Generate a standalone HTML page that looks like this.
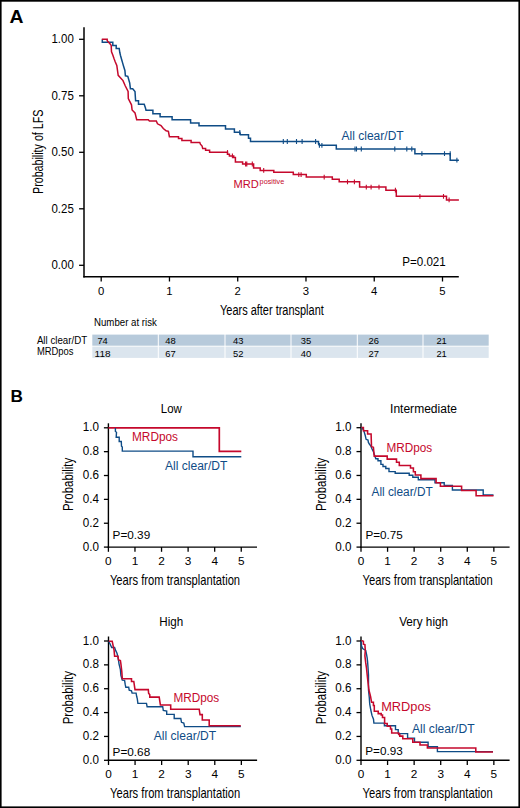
<!DOCTYPE html>
<html><head><meta charset="utf-8"><style>
html,body{margin:0;padding:0;background:#fff;}
body{width:520px;height:808px;overflow:hidden;}
svg{display:block;}
text{font-family:"Liberation Sans", sans-serif;}
</style></head><body>
<svg width="520" height="808" viewBox="0 0 520 808" font-family='"Liberation Sans", sans-serif'>
<rect x="0" y="0" width="520" height="808" fill="#fff"/>
<text transform="translate(9.6,22.8) scale(1.1,1)" font-size="17.6" font-weight="bold">A</text>
<line x1="84.0" y1="27.3" x2="84.0" y2="277.5" stroke="#000" stroke-width="1.5"/>
<line x1="83.3" y1="276.8" x2="458.8" y2="276.8" stroke="#000" stroke-width="1.5"/>
<line x1="79.1" y1="265.3" x2="84.0" y2="265.3" stroke="#000" stroke-width="1.3"/>
<text x="73.8" y="269.1" font-size="12" fill="#000" text-anchor="end" textLength="22.3" lengthAdjust="spacingAndGlyphs">0.00</text>
<line x1="79.1" y1="208.8" x2="84.0" y2="208.8" stroke="#000" stroke-width="1.3"/>
<text x="73.8" y="212.60000000000002" font-size="12" fill="#000" text-anchor="end" textLength="22.3" lengthAdjust="spacingAndGlyphs">0.25</text>
<line x1="79.1" y1="152.3" x2="84.0" y2="152.3" stroke="#000" stroke-width="1.3"/>
<text x="73.8" y="156.10000000000002" font-size="12" fill="#000" text-anchor="end" textLength="22.3" lengthAdjust="spacingAndGlyphs">0.50</text>
<line x1="79.1" y1="95.80000000000001" x2="84.0" y2="95.80000000000001" stroke="#000" stroke-width="1.3"/>
<text x="73.8" y="99.60000000000001" font-size="12" fill="#000" text-anchor="end" textLength="22.3" lengthAdjust="spacingAndGlyphs">0.75</text>
<line x1="79.1" y1="39.30000000000001" x2="84.0" y2="39.30000000000001" stroke="#000" stroke-width="1.3"/>
<text x="73.8" y="43.10000000000001" font-size="12" fill="#000" text-anchor="end" textLength="22.3" lengthAdjust="spacingAndGlyphs">1.00</text>
<line x1="101.2" y1="276.8" x2="101.2" y2="281.5" stroke="#000" stroke-width="1.3"/>
<text x="101.2" y="295.4" font-size="11.3" fill="#000" text-anchor="middle">0</text>
<line x1="169.46" y1="276.8" x2="169.46" y2="281.5" stroke="#000" stroke-width="1.3"/>
<text x="169.46" y="295.4" font-size="11.3" fill="#000" text-anchor="middle">1</text>
<line x1="237.72000000000003" y1="276.8" x2="237.72000000000003" y2="281.5" stroke="#000" stroke-width="1.3"/>
<text x="237.72000000000003" y="295.4" font-size="11.3" fill="#000" text-anchor="middle">2</text>
<line x1="305.98" y1="276.8" x2="305.98" y2="281.5" stroke="#000" stroke-width="1.3"/>
<text x="305.98" y="295.4" font-size="11.3" fill="#000" text-anchor="middle">3</text>
<line x1="374.24" y1="276.8" x2="374.24" y2="281.5" stroke="#000" stroke-width="1.3"/>
<text x="374.24" y="295.4" font-size="11.3" fill="#000" text-anchor="middle">4</text>
<line x1="442.5" y1="276.8" x2="442.5" y2="281.5" stroke="#000" stroke-width="1.3"/>
<text x="442.5" y="295.4" font-size="11.3" fill="#000" text-anchor="middle">5</text>
<text x="220" y="314.8" font-size="15.2" fill="#000" textLength="103.8" lengthAdjust="spacingAndGlyphs">Years after transplant</text>
<text transform="translate(42.6,194) rotate(-90)" font-size="15.4" textLength="84.4" lengthAdjust="spacingAndGlyphs">Probability of LFS</text>
<text x="402.2" y="266.3" font-size="12.4" fill="#000" textLength="43.6" lengthAdjust="spacingAndGlyphs">P=0.021</text>
<text x="341.5" y="140" font-size="12" fill="#0f4c86" textLength="62.2" lengthAdjust="spacingAndGlyphs">All clear/DT</text>
<text x="233.5" y="187.7" font-size="11" fill="#c5082c" textLength="25.3" lengthAdjust="spacingAndGlyphs">MRD</text>
<text x="259.6" y="184.4" font-size="7.2" fill="#c5082c" textLength="24.6" lengthAdjust="spacingAndGlyphs">positive</text>
<path d="M102.3,39.5 V42.3 H112.8 V45.4 H116.2 V48.5 H119.2 L119.8,52.5 L120.5,55.5 L121.7,59.8 L122.6,62.9 L123.5,66 L124.9,70.5 L125.4,75.8 L127.8,76.3 L129.7,83 L130.4,88.7 H132.7 L135,91.5 L135.6,100.8 H138.5 V104.2 H144.2 L145.4,107.7 L146,110.2 H152.9 V113.7 H160.1 V116.7 H172.1 V119.7 H190.6 V122.9 H199 V125.8 H225.5 V128.9 H234.4 V132.3 H239.8 L240.4,134.8 H248.5 V138.3 H250.5 V141.5 H318.5 V144 L319.4,145.3 H336.3 V149 H414.9 V153.7 H450.2 V160.2 H458.9" fill="none" stroke="#0f4c86" stroke-width="1.5" stroke-linejoin="miter"/>
<path d="M101.8,39.2 H107.2 V40.8 L108.8,42.6 L110,43.8 L111.2,45.4 L111.5,51.8 L112.8,54.9 L114,58.6 L115.2,61.7 L116.8,65.4 L118.2,75.3 L123,80.6 L125.2,85.8 L128.1,91.5 L128.3,98.5 L131.5,104.8 L132.1,110 L135,112.9 L136.7,119.8 H148.3 L149.4,121 H156.3 L157.5,123.8 L161,125.6 L163.3,128.5 L166.1,130.8 L168.4,131.3 L169.4,136.7 H178.5 V138.4 H181.9 V140.5 H191.1 V142.5 H199.8 L200.4,144.2 L202.1,146 L202.7,148.6 H205.6 V150.3 H209.6 V152.3 H227.5 V154.2 H229.4 V155.9 H233.7 V157.6 H235.4 V162 H242.6 V164 H253.6 V168.1 H260.2 V170.4 H273.8 V172.3 H293.3 V174.6 H306.3 V177.1 H332.3 V179.2 H339.2 V181.8 H359.6 V187.1 H385.9 V190.2 H396.3 V196.3 H446.5 V199.9 H458.9" fill="none" stroke="#c5082c" stroke-width="1.5" stroke-linejoin="miter"/>
<path d="M239.8,129.9V134.70000000000002" stroke="#0f4c86" stroke-width="1.1" fill="none"/>
<path d="M283.3,139.1V143.9 M287.3,139.1V143.9 M296.5,139.1V143.9 M302.1,139.1V143.9 M315.6,139.1V143.9" stroke="#0f4c86" stroke-width="1.1" fill="none"/>
<path d="M319.4,142.9V147.70000000000002 M321.9,142.9V147.70000000000002" stroke="#0f4c86" stroke-width="1.1" fill="none"/>
<path d="M355,146.6V151.4 M356.5,146.6V151.4 M361.3,146.6V151.4 M394.8,146.6V151.4 M406.8,146.6V151.4 M411.8,146.6V151.4" stroke="#0f4c86" stroke-width="1.1" fill="none"/>
<path d="M421.9,151.29999999999998V156.1 M444.5,151.29999999999998V156.1 M450.2,151.29999999999998V156.1" stroke="#0f4c86" stroke-width="1.1" fill="none"/>
<path d="M456.9,157.79999999999998V162.6" stroke="#0f4c86" stroke-width="1.1" fill="none"/>
<path d="M227.5,150.1V154.9" stroke="#c5082c" stroke-width="1.1" fill="none"/>
<path d="M232.4,153.5V158.3" stroke="#c5082c" stroke-width="1.1" fill="none"/>
<path d="M245.6,161.6V166.4 M246.8,161.6V166.4 M252.3,161.6V166.4" stroke="#c5082c" stroke-width="1.1" fill="none"/>
<path d="M263.7,168.0V172.8" stroke="#c5082c" stroke-width="1.1" fill="none"/>
<path d="M298.8,172.2V177.0 M301.1,172.2V177.0" stroke="#c5082c" stroke-width="1.1" fill="none"/>
<path d="M324.2,174.7V179.5" stroke="#c5082c" stroke-width="1.1" fill="none"/>
<path d="M347.5,179.4V184.20000000000002 M354.4,179.4V184.20000000000002" stroke="#c5082c" stroke-width="1.1" fill="none"/>
<path d="M366.3,184.7V189.5 M371.1,184.7V189.5 M379,184.7V189.5" stroke="#c5082c" stroke-width="1.1" fill="none"/>
<path d="M395.4,187.79999999999998V192.6" stroke="#c5082c" stroke-width="1.1" fill="none"/>
<path d="M419.9,193.9V198.70000000000002 M443.5,193.9V198.70000000000002" stroke="#c5082c" stroke-width="1.1" fill="none"/>
<path d="M449.1,197.5V202.3" stroke="#c5082c" stroke-width="1.1" fill="none"/>
<text x="94" y="325.6" font-size="10" fill="#000" textLength="62.8" lengthAdjust="spacingAndGlyphs">Number at risk</text>
<text x="36.9" y="343.5" font-size="10" fill="#000" textLength="50.2" lengthAdjust="spacingAndGlyphs">All clear/DT</text>
<text x="36.9" y="355.4" font-size="10" fill="#000" textLength="36.6" lengthAdjust="spacingAndGlyphs">MRDpos</text>
<rect x="92.3" y="334.6" width="65.50000000000001" height="11.1" fill="#b7cadb"/>
<rect x="92.3" y="346.6" width="65.50000000000001" height="11.3" fill="#dbe5ee"/>
<rect x="158.8" y="334.6" width="65.69999999999999" height="11.1" fill="#b7cadb"/>
<rect x="158.8" y="346.6" width="65.69999999999999" height="11.3" fill="#dbe5ee"/>
<rect x="225.5" y="334.6" width="65.0" height="11.1" fill="#b7cadb"/>
<rect x="225.5" y="346.6" width="65.0" height="11.3" fill="#dbe5ee"/>
<rect x="291.5" y="334.6" width="65.30000000000001" height="11.1" fill="#b7cadb"/>
<rect x="291.5" y="346.6" width="65.30000000000001" height="11.3" fill="#dbe5ee"/>
<rect x="357.8" y="334.6" width="64.69999999999999" height="11.1" fill="#b7cadb"/>
<rect x="357.8" y="346.6" width="64.69999999999999" height="11.3" fill="#dbe5ee"/>
<rect x="423.5" y="334.6" width="65.19999999999999" height="11.1" fill="#b7cadb"/>
<rect x="423.5" y="346.6" width="65.19999999999999" height="11.3" fill="#dbe5ee"/>
<text x="102.6" y="343.7" font-size="9.4" fill="#000" text-anchor="middle" textLength="10.4" lengthAdjust="spacingAndGlyphs">74</text>
<text x="102.6" y="356.7" font-size="9.4" fill="#000" text-anchor="middle" textLength="16" lengthAdjust="spacingAndGlyphs">118</text>
<text x="170.39999999999998" y="343.7" font-size="9.4" fill="#000" text-anchor="middle">48</text>
<text x="170.39999999999998" y="356.7" font-size="9.4" fill="#000" text-anchor="middle">67</text>
<text x="238.2" y="343.7" font-size="9.4" fill="#000" text-anchor="middle">43</text>
<text x="238.2" y="356.7" font-size="9.4" fill="#000" text-anchor="middle">52</text>
<text x="306.0" y="343.7" font-size="9.4" fill="#000" text-anchor="middle">35</text>
<text x="306.0" y="356.7" font-size="9.4" fill="#000" text-anchor="middle">40</text>
<text x="373.79999999999995" y="343.7" font-size="9.4" fill="#000" text-anchor="middle">26</text>
<text x="373.79999999999995" y="356.7" font-size="9.4" fill="#000" text-anchor="middle">27</text>
<text x="441.6" y="343.7" font-size="9.4" fill="#000" text-anchor="middle">21</text>
<text x="441.6" y="356.7" font-size="9.4" fill="#000" text-anchor="middle">21</text>
<text x="10.4" y="402.3" font-size="17.2" fill="#000" font-weight="bold">B</text>
<line x1="108.4" y1="423.3" x2="108.4" y2="547.8000000000001" stroke="#000" stroke-width="1.4"/>
<line x1="107.7" y1="547.1" x2="257.0" y2="547.1" stroke="#000" stroke-width="1.4"/>
<line x1="103.9" y1="547.1" x2="108.4" y2="547.1" stroke="#000" stroke-width="1.3"/>
<text x="98.9" y="550.7" font-size="12" fill="#000" text-anchor="end" textLength="16.2" lengthAdjust="spacingAndGlyphs">0.0</text>
<line x1="103.9" y1="523.24" x2="108.4" y2="523.24" stroke="#000" stroke-width="1.3"/>
<text x="98.9" y="526.84" font-size="12" fill="#000" text-anchor="end" textLength="16.2" lengthAdjust="spacingAndGlyphs">0.2</text>
<line x1="103.9" y1="499.38" x2="108.4" y2="499.38" stroke="#000" stroke-width="1.3"/>
<text x="98.9" y="502.98" font-size="12" fill="#000" text-anchor="end" textLength="16.2" lengthAdjust="spacingAndGlyphs">0.4</text>
<line x1="103.9" y1="475.52" x2="108.4" y2="475.52" stroke="#000" stroke-width="1.3"/>
<text x="98.9" y="479.12" font-size="12" fill="#000" text-anchor="end" textLength="16.2" lengthAdjust="spacingAndGlyphs">0.6</text>
<line x1="103.9" y1="451.66" x2="108.4" y2="451.66" stroke="#000" stroke-width="1.3"/>
<text x="98.9" y="455.26000000000005" font-size="12" fill="#000" text-anchor="end" textLength="16.2" lengthAdjust="spacingAndGlyphs">0.8</text>
<line x1="103.9" y1="427.8" x2="108.4" y2="427.8" stroke="#000" stroke-width="1.3"/>
<text x="98.9" y="431.40000000000003" font-size="12" fill="#000" text-anchor="end" textLength="16.2" lengthAdjust="spacingAndGlyphs">1.0</text>
<line x1="108.4" y1="547.1" x2="108.4" y2="551.8000000000001" stroke="#000" stroke-width="1.3"/>
<text x="108.4" y="565.2" font-size="11.8" fill="#000" text-anchor="middle">0</text>
<line x1="134.97" y1="547.1" x2="134.97" y2="551.8000000000001" stroke="#000" stroke-width="1.3"/>
<text x="134.97" y="565.2" font-size="11.8" fill="#000" text-anchor="middle">1</text>
<line x1="161.54000000000002" y1="547.1" x2="161.54000000000002" y2="551.8000000000001" stroke="#000" stroke-width="1.3"/>
<text x="161.54000000000002" y="565.2" font-size="11.8" fill="#000" text-anchor="middle">2</text>
<line x1="188.11" y1="547.1" x2="188.11" y2="551.8000000000001" stroke="#000" stroke-width="1.3"/>
<text x="188.11" y="565.2" font-size="11.8" fill="#000" text-anchor="middle">3</text>
<line x1="214.68" y1="547.1" x2="214.68" y2="551.8000000000001" stroke="#000" stroke-width="1.3"/>
<text x="214.68" y="565.2" font-size="11.8" fill="#000" text-anchor="middle">4</text>
<line x1="241.25" y1="547.1" x2="241.25" y2="551.8000000000001" stroke="#000" stroke-width="1.3"/>
<text x="241.25" y="565.2" font-size="11.8" fill="#000" text-anchor="middle">5</text>
<text x="109.9" y="584.5" font-size="14.6" fill="#000" textLength="130.2" lengthAdjust="spacingAndGlyphs">Years from transplantation</text>
<text transform="translate(73.0,511.05000000000007) rotate(-90)" font-size="14.6" textLength="53.3" lengthAdjust="spacingAndGlyphs">Probability</text>
<text x="171.3" y="413.2" font-size="12" fill="#000" text-anchor="middle" textLength="21" lengthAdjust="spacingAndGlyphs">Low</text>
<line x1="361.0" y1="423.2" x2="361.0" y2="547.8000000000001" stroke="#000" stroke-width="1.4"/>
<line x1="360.3" y1="547.1" x2="509.6" y2="547.1" stroke="#000" stroke-width="1.4"/>
<line x1="356.5" y1="547.1" x2="361.0" y2="547.1" stroke="#000" stroke-width="1.3"/>
<text x="351.5" y="550.7" font-size="12" fill="#000" text-anchor="end" textLength="16.2" lengthAdjust="spacingAndGlyphs">0.0</text>
<line x1="356.5" y1="523.22" x2="361.0" y2="523.22" stroke="#000" stroke-width="1.3"/>
<text x="351.5" y="526.82" font-size="12" fill="#000" text-anchor="end" textLength="16.2" lengthAdjust="spacingAndGlyphs">0.2</text>
<line x1="356.5" y1="499.34000000000003" x2="361.0" y2="499.34000000000003" stroke="#000" stroke-width="1.3"/>
<text x="351.5" y="502.94000000000005" font-size="12" fill="#000" text-anchor="end" textLength="16.2" lengthAdjust="spacingAndGlyphs">0.4</text>
<line x1="356.5" y1="475.46000000000004" x2="361.0" y2="475.46000000000004" stroke="#000" stroke-width="1.3"/>
<text x="351.5" y="479.06000000000006" font-size="12" fill="#000" text-anchor="end" textLength="16.2" lengthAdjust="spacingAndGlyphs">0.6</text>
<line x1="356.5" y1="451.58" x2="361.0" y2="451.58" stroke="#000" stroke-width="1.3"/>
<text x="351.5" y="455.18" font-size="12" fill="#000" text-anchor="end" textLength="16.2" lengthAdjust="spacingAndGlyphs">0.8</text>
<line x1="356.5" y1="427.7" x2="361.0" y2="427.7" stroke="#000" stroke-width="1.3"/>
<text x="351.5" y="431.3" font-size="12" fill="#000" text-anchor="end" textLength="16.2" lengthAdjust="spacingAndGlyphs">1.0</text>
<line x1="361.0" y1="547.1" x2="361.0" y2="551.8000000000001" stroke="#000" stroke-width="1.3"/>
<text x="361.0" y="565.2" font-size="11.8" fill="#000" text-anchor="middle">0</text>
<line x1="387.57" y1="547.1" x2="387.57" y2="551.8000000000001" stroke="#000" stroke-width="1.3"/>
<text x="387.57" y="565.2" font-size="11.8" fill="#000" text-anchor="middle">1</text>
<line x1="414.14" y1="547.1" x2="414.14" y2="551.8000000000001" stroke="#000" stroke-width="1.3"/>
<text x="414.14" y="565.2" font-size="11.8" fill="#000" text-anchor="middle">2</text>
<line x1="440.71000000000004" y1="547.1" x2="440.71000000000004" y2="551.8000000000001" stroke="#000" stroke-width="1.3"/>
<text x="440.71000000000004" y="565.2" font-size="11.8" fill="#000" text-anchor="middle">3</text>
<line x1="467.28" y1="547.1" x2="467.28" y2="551.8000000000001" stroke="#000" stroke-width="1.3"/>
<text x="467.28" y="565.2" font-size="11.8" fill="#000" text-anchor="middle">4</text>
<line x1="493.85" y1="547.1" x2="493.85" y2="551.8000000000001" stroke="#000" stroke-width="1.3"/>
<text x="493.85" y="565.2" font-size="11.8" fill="#000" text-anchor="middle">5</text>
<text x="362.5" y="584.5" font-size="14.6" fill="#000" textLength="130.2" lengthAdjust="spacingAndGlyphs">Years from transplantation</text>
<text transform="translate(325.6,511.0) rotate(-90)" font-size="14.6" textLength="53.3" lengthAdjust="spacingAndGlyphs">Probability</text>
<text x="423.5" y="412.7" font-size="12" fill="#000" text-anchor="middle" textLength="66.9" lengthAdjust="spacingAndGlyphs">Intermediate</text>
<line x1="108.5" y1="636.5" x2="108.5" y2="761.0" stroke="#000" stroke-width="1.4"/>
<line x1="107.8" y1="760.3" x2="257.1" y2="760.3" stroke="#000" stroke-width="1.4"/>
<line x1="104.0" y1="760.3" x2="108.5" y2="760.3" stroke="#000" stroke-width="1.3"/>
<text x="99.0" y="763.9" font-size="12" fill="#000" text-anchor="end" textLength="16.2" lengthAdjust="spacingAndGlyphs">0.0</text>
<line x1="104.0" y1="736.4399999999999" x2="108.5" y2="736.4399999999999" stroke="#000" stroke-width="1.3"/>
<text x="99.0" y="740.04" font-size="12" fill="#000" text-anchor="end" textLength="16.2" lengthAdjust="spacingAndGlyphs">0.2</text>
<line x1="104.0" y1="712.5799999999999" x2="108.5" y2="712.5799999999999" stroke="#000" stroke-width="1.3"/>
<text x="99.0" y="716.18" font-size="12" fill="#000" text-anchor="end" textLength="16.2" lengthAdjust="spacingAndGlyphs">0.4</text>
<line x1="104.0" y1="688.72" x2="108.5" y2="688.72" stroke="#000" stroke-width="1.3"/>
<text x="99.0" y="692.32" font-size="12" fill="#000" text-anchor="end" textLength="16.2" lengthAdjust="spacingAndGlyphs">0.6</text>
<line x1="104.0" y1="664.86" x2="108.5" y2="664.86" stroke="#000" stroke-width="1.3"/>
<text x="99.0" y="668.46" font-size="12" fill="#000" text-anchor="end" textLength="16.2" lengthAdjust="spacingAndGlyphs">0.8</text>
<line x1="104.0" y1="641.0" x2="108.5" y2="641.0" stroke="#000" stroke-width="1.3"/>
<text x="99.0" y="644.6" font-size="12" fill="#000" text-anchor="end" textLength="16.2" lengthAdjust="spacingAndGlyphs">1.0</text>
<line x1="108.5" y1="760.3" x2="108.5" y2="765.0" stroke="#000" stroke-width="1.3"/>
<text x="108.5" y="778.4" font-size="11.8" fill="#000" text-anchor="middle">0</text>
<line x1="135.07" y1="760.3" x2="135.07" y2="765.0" stroke="#000" stroke-width="1.3"/>
<text x="135.07" y="778.4" font-size="11.8" fill="#000" text-anchor="middle">1</text>
<line x1="161.64" y1="760.3" x2="161.64" y2="765.0" stroke="#000" stroke-width="1.3"/>
<text x="161.64" y="778.4" font-size="11.8" fill="#000" text-anchor="middle">2</text>
<line x1="188.21" y1="760.3" x2="188.21" y2="765.0" stroke="#000" stroke-width="1.3"/>
<text x="188.21" y="778.4" font-size="11.8" fill="#000" text-anchor="middle">3</text>
<line x1="214.78" y1="760.3" x2="214.78" y2="765.0" stroke="#000" stroke-width="1.3"/>
<text x="214.78" y="778.4" font-size="11.8" fill="#000" text-anchor="middle">4</text>
<line x1="241.35" y1="760.3" x2="241.35" y2="765.0" stroke="#000" stroke-width="1.3"/>
<text x="241.35" y="778.4" font-size="11.8" fill="#000" text-anchor="middle">5</text>
<text x="110.0" y="797.6999999999999" font-size="14.6" fill="#000" textLength="130.2" lengthAdjust="spacingAndGlyphs">Years from transplantation</text>
<text transform="translate(73.1,724.25) rotate(-90)" font-size="14.6" textLength="53.3" lengthAdjust="spacingAndGlyphs">Probability</text>
<text x="171.2" y="626.2" font-size="12" fill="#000" text-anchor="middle" textLength="23.9" lengthAdjust="spacingAndGlyphs">High</text>
<line x1="361.0" y1="636.5" x2="361.0" y2="761.0" stroke="#000" stroke-width="1.4"/>
<line x1="360.3" y1="760.3" x2="509.6" y2="760.3" stroke="#000" stroke-width="1.4"/>
<line x1="356.5" y1="760.3" x2="361.0" y2="760.3" stroke="#000" stroke-width="1.3"/>
<text x="351.5" y="763.9" font-size="12" fill="#000" text-anchor="end" textLength="16.2" lengthAdjust="spacingAndGlyphs">0.0</text>
<line x1="356.5" y1="736.4399999999999" x2="361.0" y2="736.4399999999999" stroke="#000" stroke-width="1.3"/>
<text x="351.5" y="740.04" font-size="12" fill="#000" text-anchor="end" textLength="16.2" lengthAdjust="spacingAndGlyphs">0.2</text>
<line x1="356.5" y1="712.5799999999999" x2="361.0" y2="712.5799999999999" stroke="#000" stroke-width="1.3"/>
<text x="351.5" y="716.18" font-size="12" fill="#000" text-anchor="end" textLength="16.2" lengthAdjust="spacingAndGlyphs">0.4</text>
<line x1="356.5" y1="688.72" x2="361.0" y2="688.72" stroke="#000" stroke-width="1.3"/>
<text x="351.5" y="692.32" font-size="12" fill="#000" text-anchor="end" textLength="16.2" lengthAdjust="spacingAndGlyphs">0.6</text>
<line x1="356.5" y1="664.86" x2="361.0" y2="664.86" stroke="#000" stroke-width="1.3"/>
<text x="351.5" y="668.46" font-size="12" fill="#000" text-anchor="end" textLength="16.2" lengthAdjust="spacingAndGlyphs">0.8</text>
<line x1="356.5" y1="641.0" x2="361.0" y2="641.0" stroke="#000" stroke-width="1.3"/>
<text x="351.5" y="644.6" font-size="12" fill="#000" text-anchor="end" textLength="16.2" lengthAdjust="spacingAndGlyphs">1.0</text>
<line x1="361.0" y1="760.3" x2="361.0" y2="765.0" stroke="#000" stroke-width="1.3"/>
<text x="361.0" y="778.4" font-size="11.8" fill="#000" text-anchor="middle">0</text>
<line x1="387.57" y1="760.3" x2="387.57" y2="765.0" stroke="#000" stroke-width="1.3"/>
<text x="387.57" y="778.4" font-size="11.8" fill="#000" text-anchor="middle">1</text>
<line x1="414.14" y1="760.3" x2="414.14" y2="765.0" stroke="#000" stroke-width="1.3"/>
<text x="414.14" y="778.4" font-size="11.8" fill="#000" text-anchor="middle">2</text>
<line x1="440.71000000000004" y1="760.3" x2="440.71000000000004" y2="765.0" stroke="#000" stroke-width="1.3"/>
<text x="440.71000000000004" y="778.4" font-size="11.8" fill="#000" text-anchor="middle">3</text>
<line x1="467.28" y1="760.3" x2="467.28" y2="765.0" stroke="#000" stroke-width="1.3"/>
<text x="467.28" y="778.4" font-size="11.8" fill="#000" text-anchor="middle">4</text>
<line x1="493.85" y1="760.3" x2="493.85" y2="765.0" stroke="#000" stroke-width="1.3"/>
<text x="493.85" y="778.4" font-size="11.8" fill="#000" text-anchor="middle">5</text>
<text x="362.5" y="797.6999999999999" font-size="14.6" fill="#000" textLength="130.2" lengthAdjust="spacingAndGlyphs">Years from transplantation</text>
<text transform="translate(325.6,724.25) rotate(-90)" font-size="14.6" textLength="53.3" lengthAdjust="spacingAndGlyphs">Probability</text>
<text x="423.6" y="626.2" font-size="12" fill="#000" text-anchor="middle" textLength="48.9" lengthAdjust="spacingAndGlyphs">Very high</text>
<path d="M108.4,427.9 H219.3 V451.3 H241.3" fill="none" stroke="#c5082c" stroke-width="1.7"/>
<path d="M115.4,428.1 V431.5 L116.5,432.3 L116.2,437.3 H119.2 V441.5 H121.3 L121.5,446.2 L122.3,447 V451.1 H193 V456.8 H241.3" fill="none" stroke="#0f4c86" stroke-width="1.4"/>
<text x="132" y="441.3" font-size="12" fill="#c5082c" textLength="46" lengthAdjust="spacingAndGlyphs">MRDpos</text>
<text x="165" y="469.5" font-size="12" fill="#0f4c86" textLength="62.3" lengthAdjust="spacingAndGlyphs">All clear/DT</text>
<text x="112.6" y="538.5" font-size="11.8" fill="#000" textLength="37.6" lengthAdjust="spacingAndGlyphs">P=0.39</text>
<path d="M361.5,427.4 L363.4,429.7 L364.2,432 L365.3,435.8 L366.1,439.3 L368,440.1 L368.4,442.4 L369.5,444.3 L370.7,445.8 L371.8,448.5 L373.4,451.6 L374.5,455.1 L375.8,458.8 H378 V460.8 H380.9 V464.4 H383 V466.5 H385.8 V468.5 H389 V471.6 H395.2 V473.2 H409.2 V475.2 H412.8 V477.3 H418.3 V479.7 H435 V482.7 H444.2 V485.5 H452.4 V490 H483.2 V495 H493.5" fill="none" stroke="#0f4c86" stroke-width="1.4"/>
<path d="M361.5,427.4 H363.4 V430.8 H367.6 V433.9 H371.1 L371.5,446.6 L373.4,447.4 L374.2,456.1 H387.2 V459.1 H396.5 V462.3 H399.3 V465.5 H410.5 V468 H413.4 V471.8 H415.3 V475 H420.9 V478.6 H436.1 V482.7 H440.4 V486.2 H461.6 V490.4 H476.1 V495.8 H493.5" fill="none" stroke="#c5082c" stroke-width="1.55"/>
<text x="386.5" y="451.6" font-size="12" fill="#c5082c" textLength="45.7" lengthAdjust="spacingAndGlyphs">MRDpos</text>
<text x="371.5" y="495.5" font-size="12" fill="#0f4c86" textLength="61.2" lengthAdjust="spacingAndGlyphs">All clear/DT</text>
<text x="365.4" y="538.5" font-size="11.8" fill="#000" textLength="37.4" lengthAdjust="spacingAndGlyphs">P=0.75</text>
<path d="M108.8,641.3 L111.7,647.5 H114.6 L115.6,650.4 L117,653.3 L117.5,655.2 L118.5,660 L119,663.8 L120.4,669.6 L120.9,675.4 L122.3,680.2 L124.6,680.4 L125.2,684.4 L125.8,687.3 H128.7 L129.2,690.2 L131.5,690.8 L132.1,693.1 H136.1 L136.7,696.5 L137.3,698.8 L137.9,703.4 H146.5 L147.1,706.7 H162.7 L163.3,710.4 L166.7,711 V714.4 H174.2 V718.5 H180.8 L181.5,722.3 L183.8,723 L184.6,726.6 H240.8" fill="none" stroke="#0f4c86" stroke-width="1.4"/>
<path d="M108.8,641.3 H112.2 L112.7,643.7 L114.1,650.4 L114.6,656.2 H118 L118.5,660 L120.4,660.5 L120.9,663.8 L121.8,671.5 L122.3,678.8 H131.5 V681.5 H133.8 L134.4,685.6 L135,689.6 H148.3 L148.6,693.1 L149.8,694.8 V697.1 H159.2 L159.8,701.1 L160.4,705 H170.7 V709.2 H199.2 L200,714.6 H202.3 V720 H209.2 V725.8 H240.8" fill="none" stroke="#c5082c" stroke-width="1.55"/>
<text x="173.4" y="702" font-size="12" fill="#c5082c" textLength="45.8" lengthAdjust="spacingAndGlyphs">MRDpos</text>
<text x="153.8" y="739.5" font-size="12" fill="#0f4c86" textLength="62.4" lengthAdjust="spacingAndGlyphs">All clear/DT</text>
<text x="112.6" y="755.6" font-size="11.8" fill="#000" textLength="37.6" lengthAdjust="spacingAndGlyphs">P=0.68</text>
<path d="M361.1,641.2 L361.5,645.8 L362.6,648.5 L365.7,650.4 L366.5,654.2 L367.2,658.1 L367.6,661.9 L368,667.3 L368.5,675 L368.5,690 L369.3,697.7 L369.7,703.8 L370.8,710 L372,715.4 L373.5,719.2 L373.9,723.1 H384.4 V725.8 H395.5 V729.6 H398.2 V733.6 H407.6 V738.1 H414.5 V742.3 H428.1 V746.7 H437.4 V751.6 H493" fill="none" stroke="#0f4c86" stroke-width="1.4"/>
<path d="M361.5,641.2 L362.2,640.8 L363.4,641.2 V644.2 L364.9,644.6 L365.3,650.4 L364.9,655.8 L365.7,662.7 L366.5,668.1 L367.2,675 L367.7,679.6 L368.9,690 L370.5,696.2 L371.6,702.3 H373.4 V705.4 H374.3 V711.2 H378.2 V713.6 H381.2 V715 H382.5 V717.4 H384.6 V723.5 H387.2 V726.3 H390.5 V728.9 H391.7 V733 H398.8 V734.5 H399.8 V736.1 H402.8 V738.8 H412.8 V742.2 H420 V744.9 H427.4 V747.9 H475.8 V751.9 H493" fill="none" stroke="#c5082c" stroke-width="1.55"/>
<text x="381.2" y="710.8" font-size="12.6" fill="#c5082c" textLength="49.8" lengthAdjust="spacingAndGlyphs">MRDpos</text>
<text x="412" y="733.4" font-size="12" fill="#0f4c86" textLength="62.6" lengthAdjust="spacingAndGlyphs">All clear/DT</text>
<text x="365.3" y="755.3" font-size="11.8" fill="#000" textLength="37.4" lengthAdjust="spacingAndGlyphs">P=0.93</text>
<rect x="0" y="0" width="520" height="1.7" fill="#000"/><rect x="0" y="0" width="1.6" height="808" fill="#000"/><rect x="518.4" y="0" width="1.6" height="808" fill="#000"/><rect x="0" y="806.4" width="520" height="1.6" fill="#000"/>
</svg>
</body></html>
